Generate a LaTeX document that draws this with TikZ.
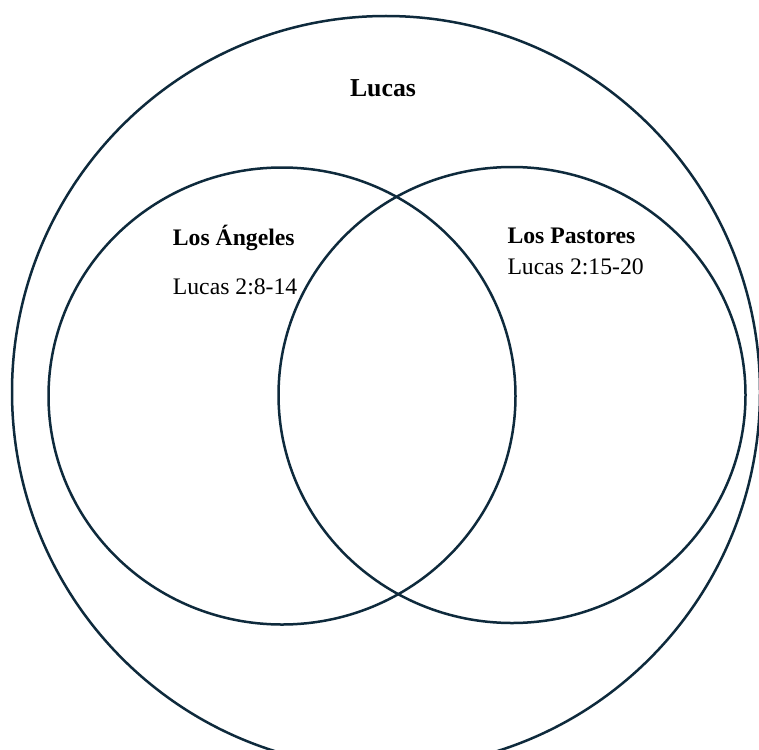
\documentclass[tikz,border=0pt]{standalone}
\usepackage{fontspec}
\usetikzlibrary{shapes.geometric}
\setmainfont{Liberation Serif}
\definecolor{ring}{HTML}{0E2A3C}
\begin{document}
\begin{tikzpicture}[x=1pt,y=-1pt,
  setcircle/.style={draw=ring,line width=2.5pt,ellipse,inner sep=0pt},
  lbl/.style={anchor=base west,inner sep=0pt,font=\fontsize{23.7}{28}\selectfont},
  title/.style={anchor=base,inner sep=0pt,font=\fontsize{25.8}{30}\selectfont\bfseries}]
\useasboundingbox (0,0) rectangle (759,749);
\clip (0,0) rectangle (759,749);
\fill[white] (0,0) rectangle (759,749);
\node[setcircle,minimum width=748pt,minimum height=752pt] (big) at (386,392) {};
\node[setcircle,minimum width=467pt,minimum height=457pt] (left) at (282,396) {};
\node[setcircle,minimum width=467pt,minimum height=456pt] (right) at (512,395) {};
\node[title] (lucas) at (383,96.5) {Lucas};
\node[lbl,font=\fontsize{23.7}{28}\selectfont\bfseries] (angeles) at (172.7,245.7) {Los Ángeles};
\node[lbl] (angref) at (172.7,294.3) {Lucas 2:8-14};
\node[lbl,font=\fontsize{23.7}{28}\selectfont\bfseries] (pastores) at (507.3,243.3) {Los Pastores};
\node[lbl] (pasref) at (507.3,274) {Lucas 2:15-20};
\end{tikzpicture}
\end{document}
